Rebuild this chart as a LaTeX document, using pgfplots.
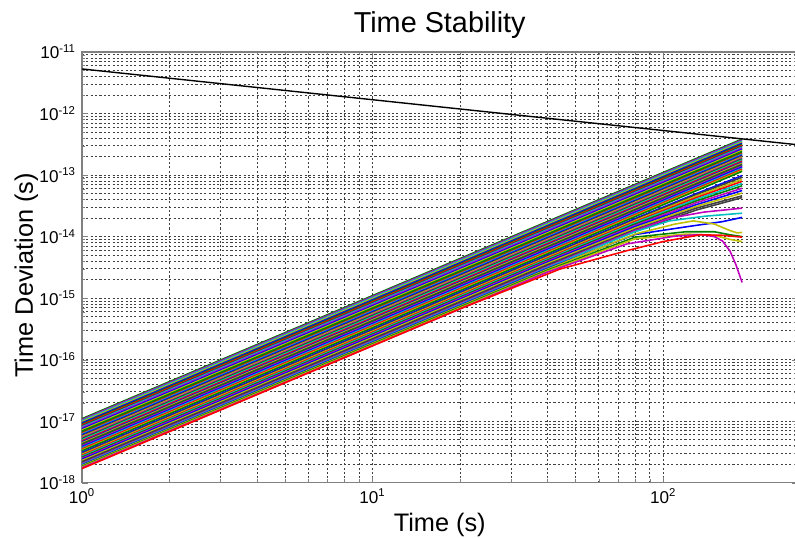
\documentclass[border=0pt]{standalone}
\usepackage{fontspec}
\setmainfont{Liberation Sans}
\usepackage{pgfplots}
\pgfplotsset{compat=1.18}
\definecolor{mb}{rgb}{0,0,1}
\definecolor{mg}{rgb}{0,0.5,0}
\definecolor{mr}{rgb}{1,0,0}
\definecolor{mc}{rgb}{0,0.75,0.75}
\definecolor{mm}{rgb}{0.75,0,0.75}
\definecolor{my}{rgb}{0.75,0.75,0}
\definecolor{mk}{rgb}{0.25,0.25,0.25}
\begin{document}
\begin{tikzpicture}
\begin{axis}[
  at={(0,0)}, anchor=south west,
  scale only axis, width=14.4cm, height=8.67cm,
  xmode=log, ymode=log,
  xmin=1, xmax=290, ymin=1e-18, ymax=1e-11,
  grid=both,
  major grid style={black!75, line width=0.45pt, dash pattern=on 1.2pt off 1.3pt},
  minor grid style={black!75, line width=0.45pt, dash pattern=on 1.2pt off 1.3pt},
  axis line style={black!50, line width=0.8pt},
  major tick style={black!50},
  minor tick style={black!50},
  major tick length=0.12cm, minor tick length=0.07cm,
  /pgf/number format/assume math mode=true,
  log number format basis/.code 2 args={#1\textsuperscript{\fontsize{6.5}{7}\selectfont\pgfmathprintnumber{#2}}},
  tick label style={font=\fontsize{9.8}{11}\selectfont},
  every axis title shift=0pt,
  title={Time Stability},
  title style={at={(axis description cs:0.5,1.046)}, anchor=base, font=\fontsize{16.5}{19}\selectfont},
  xlabel={Time (s)},
  xlabel style={at={(axis description cs:0.5,-0.1137)}, anchor=base, font=\fontsize{14.5}{17}\selectfont},
  ylabel={Time Deviation (s)},
  ylabel style={at={(axis description cs:-0.0685,0.4815)}, anchor=base, font=\fontsize{14.5}{17}\selectfont},
  every axis plot/.append style={line width=0.9pt},
]
% straight lines
\addplot[mg] coordinates {(1,11.0e-18) (187,3.85e-13)};
\addplot[mm] coordinates {(1,10.6e-18) (187,3.71e-13)};
\addplot[mc] coordinates {(1,10.2e-18) (187,3.57e-13)};
\addplot[my] coordinates {(1,9.8e-18) (187,3.43e-13)};
\addplot[mb] coordinates {(1,9.4e-18) (187,3.29e-13)};
\addplot[mg] coordinates {(1,9.0e-18) (187,3.15e-13)};
\addplot[mr] coordinates {(1,8.7e-18) (187,3.04e-13)};
\addplot[mk] coordinates {(1,8.4e-18) (187,2.94e-13)};
\addplot[mc] coordinates {(1,8.1e-18) (187,2.83e-13)};
\addplot[mm] coordinates {(1,7.8e-18) (187,2.73e-13)};
\addplot[mb] coordinates {(1,7.5e-18) (187,2.62e-13)};
\addplot[my] coordinates {(1,7.2e-18) (187,2.52e-13)};
\addplot[mg] coordinates {(1,6.9e-18) (187,2.41e-13)};
\addplot[mg] coordinates {(1,6.6e-18) (187,2.31e-13)};
\addplot[mr] coordinates {(1,6.4e-18) (187,2.24e-13)};
\addplot[mc] coordinates {(1,6.2e-18) (187,2.17e-13)};
\addplot[mb] coordinates {(1,6.0e-18) (187,2.10e-13)};
\addplot[mk] coordinates {(1,5.8e-18) (187,2.03e-13)};
\addplot[my] coordinates {(1,5.6e-18) (187,1.96e-13)};
\addplot[mm] coordinates {(1,5.4e-18) (187,1.89e-13)};
\addplot[mg] coordinates {(1,5.2e-18) (187,1.82e-13)};
\addplot[mc] coordinates {(1,5.0e-18) (187,1.75e-13)};
\addplot[mr] coordinates {(1,4.8e-18) (187,1.68e-13)};
\addplot[mb] coordinates {(1,4.6e-18) (187,1.61e-13)};
\addplot[my] coordinates {(1,4.45e-18) (187,1.56e-13)};
\addplot[mk] coordinates {(1,4.3e-18) (187,1.50e-13)};
\addplot[mg] coordinates {(1,4.15e-18) (187,1.45e-13)};
\addplot[mm] coordinates {(1,4.0e-18) (187,1.40e-13)};
\addplot[mb] coordinates {(1,3.85e-18) (187,1.35e-13)};
\addplot[mc] coordinates {(1,3.7e-18) (187,1.29e-13)};
\addplot[mr] coordinates {(1,3.55e-18) (187,1.24e-13)};
\addplot[my] coordinates {(1,3.4e-18) (187,1.19e-13)};
\addplot[mg] coordinates {(1,3.3e-18) (187,1.15e-13)};
% slightly bending lines
\addplot[mb] coordinates {(1,3.1e-18) (40,4.96e-15) (80,1.96e-14) (130,5.0e-14) (187,9.8e-14)};
\addplot[mk] coordinates {(1,3.0e-18) (40,4.8e-15) (80,1.89e-14) (130,4.8e-14) (187,9.2e-14)};
\addplot[my] coordinates {(1,2.9e-18) (40,4.64e-15) (80,1.82e-14) (130,4.55e-14) (187,8.5e-14)};
\addplot[mr] coordinates {(1,2.8e-18) (40,4.48e-15) (80,1.75e-14) (130,4.3e-14) (187,7.9e-14)};
\addplot[mc] coordinates {(1,2.7e-18) (40,4.32e-15) (80,1.68e-14) (130,4.05e-14) (187,7.3e-14)};
\addplot[mg] coordinates {(1,2.6e-18) (40,4.16e-15) (80,1.6e-14) (130,3.8e-14) (187,6.7e-14)};
\addplot[mm] coordinates {(1,2.5e-18) (40,4.0e-15) (80,1.52e-14) (130,3.55e-14) (187,6.1e-14)};
\addplot[mb] coordinates {(1,2.4e-18) (40,3.84e-15) (80,1.45e-14) (130,3.3e-14) (187,5.6e-14)};
\addplot[my] coordinates {(1,2.3e-18) (40,3.68e-15) (80,1.38e-14) (130,3.1e-14) (187,5.1e-14)};
\addplot[mk] coordinates {(1,2.2e-18) (40,3.5e-15) (80,1.3e-14) (130,2.9e-14) (187,4.6e-14)};
\addplot[mk] coordinates {(1,2.1e-18) (40,3.34e-15) (80,1.22e-14) (130,2.7e-14) (187,4.3e-14)};
% strongly bending lines
\addplot[mm] coordinates {(1,2.05e-18) (40,3.25e-15) (80,1.25e-14) (106,2.0e-14) (138,2.5e-14) (187,2.9e-14)};
\addplot[mc] coordinates {(1,2.0e-18) (40,3.15e-15) (80,1.2e-14) (105,1.8e-14) (140,2.15e-14) (187,2.4e-14)};
\addplot[mb] coordinates {(1,1.95e-18) (40,3.05e-15) (80,1.08e-14) (121,1.45e-14) (160,1.75e-14) (187,2.05e-14)};
\addplot[my] coordinates {(1,1.9e-18) (40,2.95e-15) (80,1.1e-14) (110,1.6e-14) (127,1.8e-14) (150,1.6e-14) (170,1.25e-14) (180,1.15e-14) (187,1.17e-14)};
\addplot[mg] coordinates {(1,1.85e-18) (40,2.85e-15) (80,9.8e-15) (120,1.2e-14) (150,1.2e-14) (170,1.07e-14) (187,1.0e-14)};
\addplot[my] coordinates {(1,1.8e-18) (40,2.75e-15) (80,9.2e-15) (120,1.1e-14) (150,1.05e-14) (170,9.0e-15) (187,8.3e-15)};
\addplot[mm] coordinates {(1,1.75e-18) (40,2.65e-15) (75,7.6e-15) (110,1.02e-14) (135,1.08e-14) (150,1.0e-14) (160,8.5e-15) (170,5.8e-15) (178,3.5e-15) (187,1.8e-15)};
\addplot[mr] coordinates {(1,1.7e-18) (20,6.7e-16) (44,2.95e-15) (75,5.9e-15) (100,8.3e-15) (134,1.07e-14) (160,1.05e-14) (187,9.8e-15)};
% reference line
\addplot[black, line width=0.8pt] coordinates {(1,5.3e-12) (290,3.11e-13)};
\end{axis}
\pgfresetboundingbox
\useasboundingbox (-1.65cm,-1.107cm) rectangle (14.35cm,9.716cm);
\end{tikzpicture}
\end{document}
